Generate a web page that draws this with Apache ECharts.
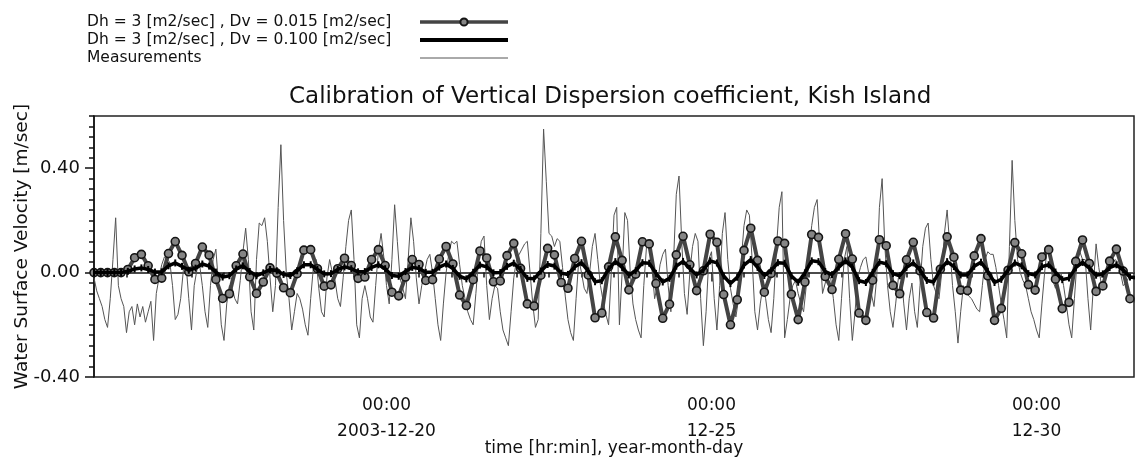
<!DOCTYPE html>
<html><head><meta charset="utf-8">
<script src="https://cdn.jsdelivr.net/npm/echarts@6/dist/echarts.min.js"></script>
<style>html,body{margin:0;padding:0;background:#fff}#c{width:1135px;height:466px}</style>
</head><body><div id="c"></div>
<script>
// x values are hours counted from 2003-12-15 12:00 (left edge of the plot)
const modelStepHours = 2.5;
const measStepHours = 1;
const seriesNames = [
  'Dh = 3 [m2/sec] , Dv = 0.015 [m2/sec]',
  'Dh = 3 [m2/sec] , Dv = 0.100 [m2/sec]',
  'Measurements'
];
const modelDv015 = [
  0,0,0,0,0,0.012,0.057,0.070,0.026,-0.026,
  -0.021,0.073,0.119,0.066,0.003,0.035,0.098,0.067,-0.026,-0.099,
  -0.081,0.026,0.071,-0.016,-0.080,-0.036,0.018,-0.002,-0.058,-0.077,
  -0.004,0.086,0.088,0.015,-0.052,-0.047,0.015,0.055,0.027,-0.022,
  -0.017,0.050,0.088,0.027,-0.075,-0.089,-0.017,0.050,0.031,-0.030,
  -0.027,0.052,0.100,0.033,-0.086,-0.126,-0.027,0.083,0.056,-0.035,
  -0.032,0.065,0.112,0.016,-0.120,-0.128,-0.010,0.093,0.068,-0.038,
  -0.060,0.054,0.120,-0.009,-0.173,-0.155,0.022,0.137,0.047,-0.066,
  -0.006,0.118,0.110,-0.042,-0.175,-0.121,0.068,0.139,0.030,-0.069,
  0.007,0.147,0.116,-0.084,-0.200,-0.104,0.085,0.170,0.047,-0.075,
  -0.003,0.121,0.112,-0.083,-0.180,-0.036,0.146,0.135,-0.015,-0.065,
  0.051,0.149,0.052,-0.155,-0.183,-0.029,0.126,0.103,-0.049,-0.081,
  0.049,0.116,0.007,-0.153,-0.174,0.013,0.137,0.059,-0.067,-0.069,
  0.064,0.130,-0.012,-0.183,-0.137,0.009,0.115,0.072,-0.046,-0.067,
  0.060,0.088,-0.025,-0.138,-0.114,0.043,0.125,0.035,-0.072,-0.051,
  0.044,0.090,0.006,-0.100,-0.110
];
const modelDv100 = [
  0,0,0,0,0,0.005,0.014,0.018,0.012,0.002,
  0.003,0.026,0.037,0.024,0.009,0.017,0.033,0.025,0.002,-0.017,
  -0.012,0.014,0.026,0.004,-0.012,-0.001,0.012,0.007,-0.007,-0.011,
  0.007,0.030,0.030,0.012,-0.005,-0.004,0.012,0.022,0.015,0.003,
  0.004,0.020,0.030,0.015,-0.011,-0.014,0.004,0.020,0.016,0.001,
  0.001,0.021,0.033,0.016,-0.014,-0.024,0.001,0.029,0.022,-0.001,
  0.000,0.024,0.036,0.012,-0.022,-0.024,0.006,0.031,0.025,-0.002,
  -0.007,0.022,0.038,0.006,-0.035,-0.031,0.014,0.042,0.020,-0.009,
  0.007,0.038,0.036,-0.003,-0.036,-0.022,0.025,0.043,0.016,-0.009,
  0.010,0.045,0.037,-0.013,-0.042,-0.018,0.029,0.050,0.020,-0.011,
  0.007,0.038,0.036,-0.013,-0.037,-0.001,0.045,0.042,0.004,-0.008,
  0.021,0.045,0.021,-0.031,-0.038,0.001,0.040,0.034,-0.004,-0.012,
  0.020,0.037,0.010,-0.030,-0.036,0.011,0.042,0.023,-0.009,-0.009,
  0.024,0.040,0.005,-0.038,-0.026,0.010,0.037,0.026,-0.004,-0.009,
  0.023,0.030,0.002,-0.027,-0.021,0.019,0.039,0.017,-0.010,-0.005,
  0.019,0.030,0.010,-0.017,-0.020
];
const measurements = [
  -0.02,-0.07,-0.10,-0.13,-0.18,-0.21,-0.10,0.05,0.21,-0.05,
  -0.10,-0.13,-0.23,-0.15,-0.13,-0.20,-0.12,-0.17,-0.13,-0.19,
  -0.15,-0.11,-0.26,-0.08,-0.02,0.03,0.06,0.05,0.04,-0.05,
  -0.18,-0.16,-0.10,0.01,0.03,-0.10,-0.22,-0.05,0.01,0.03,
  -0.05,-0.15,-0.21,-0.05,0.05,0.09,-0.05,-0.20,-0.26,-0.12,
  -0.05,-0.06,-0.10,-0.12,-0.03,0.08,0.17,0.05,-0.15,-0.22,
  0.05,0.19,0.18,0.21,0.12,-0.02,-0.15,-0.05,0.25,0.49,
  0.20,0.00,-0.10,-0.22,-0.15,-0.08,-0.10,-0.14,-0.20,-0.24,
  -0.10,0.02,0.05,-0.06,-0.15,-0.17,-0.02,0.05,0.00,-0.03,
  -0.10,-0.13,-0.02,0.10,0.20,0.24,0.05,-0.20,-0.25,-0.10,
  -0.05,-0.10,-0.17,-0.19,-0.05,0.08,0.15,0.06,-0.05,-0.12,
  0.05,0.26,0.12,-0.02,-0.06,-0.10,0.05,0.21,0.12,-0.02,
  -0.12,-0.05,0.00,0.05,0.07,0.00,-0.10,-0.20,-0.26,-0.12,
  0.00,0.07,0.12,0.11,0.12,0.03,-0.05,-0.10,-0.15,-0.18,
  -0.20,-0.08,0.05,0.12,0.14,-0.05,-0.18,-0.10,-0.05,-0.06,
  -0.15,-0.22,-0.25,-0.28,-0.15,-0.02,0.05,0.07,0.09,0.11,
  0.12,0.00,-0.12,-0.21,-0.18,0.15,0.55,0.35,0.15,0.14,
  0.10,0.13,0.12,0.02,-0.09,-0.18,-0.23,-0.26,-0.10,0.05,
  0.00,-0.06,-0.08,0.00,0.10,0.15,0.05,-0.05,-0.11,-0.16,
  -0.20,0.00,0.22,0.25,-0.20,0.00,0.23,0.20,0.00,-0.12,
  -0.18,-0.22,-0.25,-0.05,0.10,0.12,0.02,-0.10,-0.05,0.03,
  0.07,0.09,-0.05,-0.15,0.05,0.30,0.37,0.12,-0.08,-0.16,
  0.00,0.10,0.15,0.12,-0.10,-0.28,-0.15,0.05,0.08,-0.10,
  -0.22,-0.05,0.15,0.23,0.05,-0.06,-0.12,-0.17,-0.10,0.05,
  0.18,0.24,0.22,0.05,-0.15,-0.22,-0.12,-0.05,-0.10,-0.18,
  -0.23,-0.10,0.10,0.25,0.31,-0.25,-0.18,-0.10,-0.05,-0.03,
  -0.08,-0.12,-0.15,-0.05,0.08,0.18,0.25,0.28,0.10,-0.08,
  -0.04,0.00,-0.02,-0.10,-0.20,-0.26,-0.10,0.05,0.10,-0.10,
  -0.26,-0.15,-0.02,0.02,0.05,0.06,0.00,-0.08,-0.13,-0.02,
  0.25,0.36,0.10,-0.05,-0.15,-0.21,-0.12,-0.02,0.00,-0.12,
  -0.22,-0.10,-0.04,-0.15,-0.21,-0.05,0.10,0.17,0.19,0.05,
  -0.05,-0.08,-0.10,0.00,0.15,0.24,0.10,-0.05,-0.15,-0.27,
  -0.15,-0.05,-0.07,-0.09,-0.10,-0.12,-0.14,-0.15,-0.05,0.05,
  0.08,0.07,0.07,0.02,-0.05,-0.12,-0.18,-0.25,0.10,0.43,
  0.20,0.05,0.00,-0.03,-0.05,-0.10,-0.15,-0.18,-0.22,-0.25,
  -0.12,0.00,0.10,0.05,-0.03,-0.06,-0.02,0.00,-0.05,-0.12,
  -0.20,-0.25,-0.10,0.05,0.08,0.05,0.05,-0.10,-0.22,-0.05,
  0.11,0.02,-0.05,-0.03,0.00,0.02,0.03,0.05,0.04,0.00,
  -0.05,-0.04,-0.02,0.00,0.00
];
const xMin = 0, xMax = 384;           // 2003-12-15 12:00 .. 2003-12-31 12:00
const xTickHours = [108, 228, 348];   // 00:00 of 12-20, 12-25, 12-30
const xTickLabels = ['00:00\n2003-12-20', '00:00\n12-25', '00:00\n12-30'];
const yMin = -0.4, yMax = 0.6;
const yTickValues = [-0.4, 0, 0.4];
const yTickLabels = ['-0.40', '0.00', '0.40'];

const xMinorTicks = [];
for (let h = 12; h < xMax; h += 12) xMinorTicks.push(h);
const yMinorTicks = [];
for (let k = 0; k <= 25; k++) yMinorTicks.push(Math.round((yMin + k * 0.04) * 100) / 100);

const FONT = 'DejaVu Sans';
const INK = '#111';
const axisLine = {show: true, lineStyle: {color: INK, width: 1.5}};

const chart = echarts.init(document.getElementById('c'), null, {renderer: 'canvas'});
chart.setOption({
  animation: false,
  backgroundColor: '#fff',
  title: {
    text: 'Calibration of Vertical Dispersion coefficient, Kish Island',
    left: 289, top: 86, padding: 0,
    textStyle: {fontFamily: FONT, fontSize: 23, fontWeight: 'normal', color: INK}
  },
  legend: {
    orient: 'vertical', left: 87, top: 14, padding: 0,
    align: 'right', itemWidth: 88, itemHeight: 9, itemGap: 2,
    data: [
      {name: seriesNames[0], lineStyle: {width: 3.5}},
      {name: seriesNames[1], lineStyle: {width: 4}, itemStyle: {opacity: 0}},
      {name: seriesNames[2], lineStyle: {width: 1}, itemStyle: {opacity: 0}}
    ],
    formatter: n => '{t|' + n + '}',
    textStyle: {color: INK, rich: {t: {width: 328, align: 'left', fontFamily: FONT, fontSize: 15.5, color: INK}}}
  },
  grid: {left: 94, right: 1, top: 116, bottom: 89, show: true, borderColor: '#222', borderWidth: 1.5,
         outerBoundsMode: 'none', containLabel: false},
  xAxis: [{
    type: 'value', min: xMin, max: xMax, position: 'bottom',
    name: 'time [hr:min], year-month-day', nameLocation: 'middle', nameGap: 63, nameMoveOverlap: false,
    nameTextStyle: {fontFamily: FONT, fontSize: 17, color: INK},
    axisLine: axisLine,
    axisTick: {show: true, customValues: xMinorTicks, length: 5, lineStyle: {color: INK, width: 1.5}},
    axisLabel: {show: true, customValues: xTickHours, margin: 16, lineHeight: 26,
      fontFamily: FONT, fontSize: 17, color: INK,
      formatter: v => { const i = xTickHours.indexOf(v); return i >= 0 ? xTickLabels[i] : ''; }},
    splitLine: {show: false}
  }, {
    type: 'value', min: xMin, max: xMax, position: 'bottom',
    axisLine: {show: false},
    axisTick: {show: true, customValues: xTickHours, length: 9, lineStyle: {color: INK, width: 1.5}},
    axisLabel: {show: false}, splitLine: {show: false}
  }],
  yAxis: [{
    type: 'value', min: yMin, max: yMax, position: 'left',
    name: 'Water Surface Velocity [m/sec]', nameLocation: 'middle', nameGap: 62, nameMoveOverlap: false,
    nameTextStyle: {fontFamily: FONT, fontSize: 18.5, color: INK},
    axisLine: axisLine,
    axisTick: {show: true, customValues: yMinorTicks, length: 5, lineStyle: {color: INK, width: 1.5}},
    axisLabel: {show: true, customValues: yTickValues, margin: 14,
      fontFamily: FONT, fontSize: 18, color: INK,
      formatter: v => { const i = yTickValues.indexOf(v); return i >= 0 ? yTickLabels[i] : ''; }},
    splitLine: {show: false}
  }, {
    type: 'value', min: yMin, max: yMax, position: 'left',
    axisLine: {show: false},
    axisTick: {show: true, customValues: yTickValues, length: 9, lineStyle: {color: INK, width: 1.5}},
    axisLabel: {show: false}, splitLine: {show: false}
  }],
  series: [{
    name: seriesNames[0], type: 'line', xAxisIndex: 0, yAxisIndex: 0, z: 3,
    data: modelDv015.map((v, i) => [i * modelStepHours, v]),
    symbol: 'circle', symbolSize: 8, showAllSymbol: true,
    lineStyle: {color: '#444', width: 4},
    itemStyle: {color: '#858585', borderColor: '#151515', borderWidth: 1.6}
  }, {
    name: seriesNames[1], type: 'line', xAxisIndex: 0, yAxisIndex: 0, z: 4,
    data: modelDv100.map((v, i) => [i * modelStepHours, v]),
    symbol: 'rect', symbolSize: [2, 7], showAllSymbol: true,
    lineStyle: {color: '#000', width: 3.5},
    itemStyle: {color: '#000'}
  }, {
    name: seriesNames[2], type: 'line', xAxisIndex: 0, yAxisIndex: 0, z: 2,
    data: measurements.map((v, i) => [i * measStepHours, v]),
    symbol: 'none',
    lineStyle: {color: '#555', width: 1},
    itemStyle: {color: '#555'}
  }]
});
</script>
</body></html>
